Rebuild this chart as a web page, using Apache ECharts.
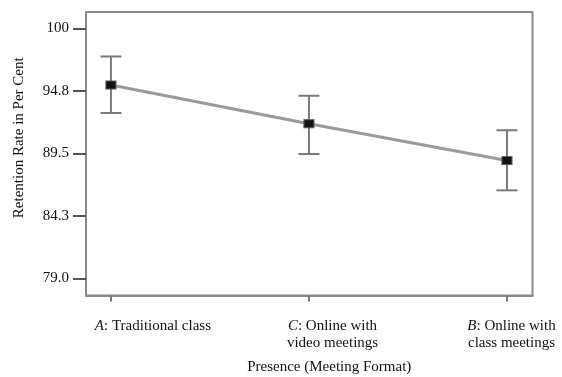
<!DOCTYPE html>
<html><head><meta charset="utf-8">
<script src="https://cdn.jsdelivr.net/npm/echarts@6/dist/echarts.min.js"></script>
<style>html,body{margin:0;padding:0;background:#fff}#c{width:562px;height:377px}</style>
</head><body><div id="c"></div>
<script>
// ---- data ----
const catLetters = ['A', 'C', 'B'];
const catRest = [': Traditional class', ': Online with\nvideo meetings', ': Online with\nclass meetings'];
const means = [95.25, 92.0, 88.9];
const upper = [97.65, 94.35, 91.45];
const lower = [92.9, 89.45, 86.4];
const yTicks = [79.0, 84.25, 89.5, 94.75, 100];
const yTickLabels = ['79.0', '84.3', '89.5', '94.8', '100'];
const xTicks = [0, 1, 2];

// ---- layout (label anchor positions on the x scale) ----
const labelPos = [0.212, 1.119, 2.023];

const FONT = '"Liberation Serif", "DejaVu Serif", serif';
const FS = 15;
const chart = echarts.init(document.getElementById('c'), null, {renderer: 'canvas'});

function nearestIdx(arr, v) {
  let b = 0;
  for (let i = 1; i < arr.length; i++) if (Math.abs(arr[i] - v) < Math.abs(arr[b] - v)) b = i;
  return b;
}

const option = {
  animation: false,
  backgroundColor: '#fff',
  grid: {left: 86, top: 12, right: 29.5, bottom: 81.5, show: true, borderColor: '#8a8a8a', borderWidth: 2,
         backgroundColor: 'transparent', containLabel: false, outerBoundsMode: 'none'},
  xAxis: [{
    type: 'value', min: -0.126, max: 2.129,
    axisLine: {show: true, onZero: false, lineStyle: {color: '#8a8a8a', width: 2}},
    axisTick: {show: true, customValues: xTicks, inside: false, length: 6, lineStyle: {color: '#777', width: 2}},
    axisLabel: {show: false},
    splitLine: {show: false},
    name: 'Presence (Meeting Format)', nameLocation: 'middle', nameGap: 64,
    nameTextStyle: {fontFamily: FONT, fontSize: FS, color: '#111', padding: [0, 0, 0, 40]}
  }, {
    type: 'value', min: -0.126, max: 2.129, position: 'bottom',
    axisLine: {show: false}, axisTick: {show: false}, splitLine: {show: false},
    axisLabel: {
      show: true, customValues: labelPos, margin: 22, align: 'center',
      fontFamily: FONT, fontSize: FS, color: '#111', lineHeight: 17,
      formatter: function (v) {
        const i = nearestIdx(labelPos, v);
        return '{i|' + catLetters[i] + '}' + catRest[i];
      },
      rich: {i: {fontStyle: 'italic', fontFamily: FONT, fontSize: FS, color: '#111', lineHeight: 17}}
    }
  }],
  yAxis: {
    type: 'value', min: 77.56, max: 101.39,
    axisLine: {show: true, onZero: false, lineStyle: {color: '#8a8a8a', width: 2}},
    axisTick: {show: true, customValues: yTicks, length: 13, lineStyle: {color: '#555', width: 2}},
    axisLabel: {
      show: true, customValues: yTicks, margin: 17,
      fontFamily: FONT, fontSize: FS, color: '#111',
      formatter: function (v) { return yTickLabels[nearestIdx(yTicks, v)]; }
    },
    splitLine: {show: false},
    name: 'Retention Rate in Per Cent', nameLocation: 'middle', nameGap: 59, nameRotate: 90,
    nameTextStyle: {fontFamily: FONT, fontSize: FS, color: '#111', padding: [0, 0, 0, 32]}
  },
  series: [{
    type: 'custom',
    xAxisIndex: 0,
    data: xTicks.map((x, i) => [x, upper[i], lower[i]]),
    renderItem: function (params, api) {
      const x = api.value(0);
      const pHi = api.coord([x, api.value(1)]);
      const pLo = api.coord([x, api.value(2)]);
      const w = 10.5;
      const st = {stroke: '#7a7a7a', lineWidth: 2};
      return {type: 'group', children: [
        {type: 'line', shape: {x1: pHi[0], y1: pHi[1], x2: pLo[0], y2: pLo[1]}, style: st},
        {type: 'line', shape: {x1: pHi[0] - w, y1: pHi[1], x2: pHi[0] + w, y2: pHi[1]}, style: st},
        {type: 'line', shape: {x1: pLo[0] - w, y1: pLo[1], x2: pLo[0] + w, y2: pLo[1]}, style: st}
      ]};
    },
    z: 2
  }, {
    type: 'line',
    xAxisIndex: 0,
    data: xTicks.map((x, i) => [x, means[i]]),
    lineStyle: {color: '#9a9a9a', width: 3},
    symbol: 'rect', symbolSize: [10, 8],
    itemStyle: {color: '#111', borderColor: '#555', borderWidth: 1},
    z: 3
  }]
};
chart.setOption(option);
</script>
</body></html>
